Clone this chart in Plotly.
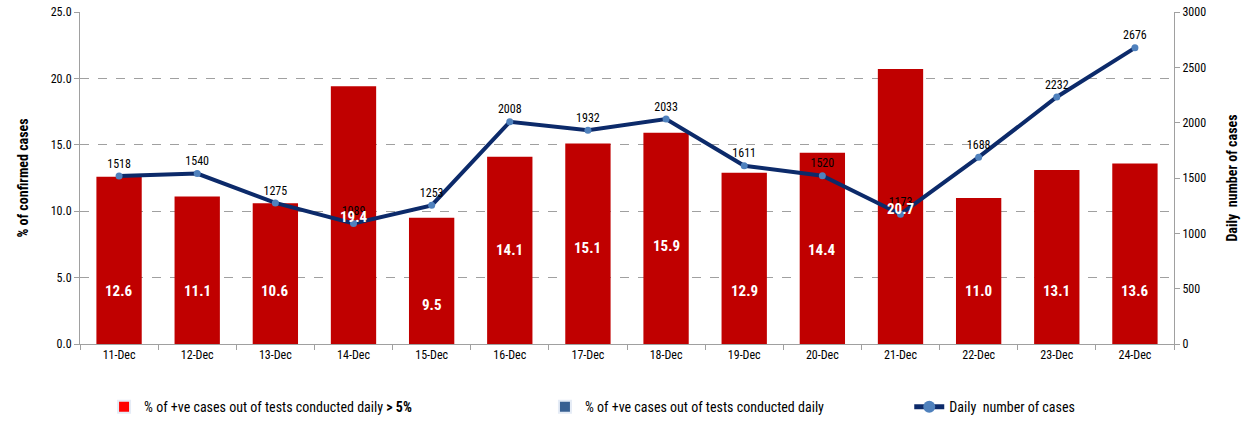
import plotly.graph_objects as go

dates = ["11-Dec", "12-Dec", "13-Dec", "14-Dec", "15-Dec", "16-Dec", "17-Dec",
         "18-Dec", "19-Dec", "20-Dec", "21-Dec", "22-Dec", "23-Dec", "24-Dec"]
pct_positive = [12.6, 11.1, 10.6, 19.4, 9.5, 14.1, 15.1, 15.9, 12.9, 14.4, 20.7, 11.0, 13.1, 13.6]
daily_cases = [1518, 1540, 1275, 1089, 1253, 2008, 1932, 2033, 1611, 1520, 1173, 1688, 2232, 2676]
left_ticks = [0, 5, 10, 15, 20, 25]
right_ticks = [0, 500, 1000, 1500, 2000, 2500, 3000]

# vertical placement of the white value labels inside bars (left-axis units)
bar_label_pos = [4.0, 4.0, 4.0, 9.6, 2.9, 7.1, 7.2, 7.4, 4.0, 7.1, 10.2, 4.0, 4.0, 4.0]

FONT = "Liberation Sans Narrow, Arial Narrow, Roboto Condensed, Liberation Sans, sans-serif"

fig = go.Figure()

fig.add_trace(go.Bar(
    x=dates, y=pct_positive, marker=dict(color="#C00000", line=dict(width=0)),
    showlegend=False, hoverinfo="y",
))

fig.add_trace(go.Scatter(
    x=dates, y=daily_cases, yaxis="y2", mode="lines+markers+text",
    line=dict(color="#0C2A6A", width=4),
    marker=dict(color="#4F81BD", size=7),
    text=[str(v) for v in daily_cases], textposition="top center",
    textfont=dict(family=FONT, size=12, color="#000000"),
    name="Daily  number of cases", legend="legend3",
))

# legend-only entries
fig.add_trace(go.Bar(x=[dates[0]], y=[None], marker_color="#FF0000",
                     name="% of +ve cases out of tests conducted daily <b>> 5%</b>",
                     legend="legend"))
fig.add_trace(go.Bar(x=[dates[0]], y=[None], marker_color="#376092",
                     name="% of +ve cases out of tests conducted daily",
                     legend="legend2"))

for d, v, p in zip(dates, pct_positive, bar_label_pos):
    fig.add_annotation(x=d, y=p, xref="x", yref="y", text=f"<b>{v:.1f}</b>",
                       showarrow=False, font=dict(family=FONT, size=15, color="#FFFFFF"))

legend_common = dict(orientation="h", yanchor="middle", xanchor="left",
                     font=dict(family=FONT, size=14, color="#000000"),
                     bgcolor="rgba(0,0,0,0)", itemsizing="constant")

fig.update_layout(
    width=1255, height=426,
    margin=dict(l=80, r=81, t=12, b=82, autoexpand=False),
    paper_bgcolor="white", plot_bgcolor="white",
    barmode="overlay", bargap=0.42,
    font=dict(family=FONT, size=12, color="#000000"),
    xaxis=dict(
        type="category", range=[-0.5, 13.5],
        showline=True, linecolor="#A0A0A0", linewidth=1,
        ticks="outside", tickson="boundaries", ticklen=5, tickcolor="#A0A0A0",
        tickfont=dict(family=FONT, size=12, color="#000000"),
        showgrid=False,
    ),
    yaxis=dict(
        range=[0, 25], tickvals=left_ticks, tickformat=".1f",
        showline=True, linecolor="#A0A0A0", linewidth=1,
        ticks="outside", ticklen=5, tickcolor="#A0A0A0",
        showgrid=True, gridcolor="#A0A0A0", griddash="dash", gridwidth=1,
        zeroline=False, automargin=False,
        tickfont=dict(family=FONT, size=12, color="#000000"),
        title=dict(text="<b>% of confirmed cases</b>", font=dict(family=FONT, size=14), standoff=18),
    ),
    yaxis2=dict(
        range=[0, 3000], tickvals=right_ticks, overlaying="y", side="right",
        showline=True, linecolor="#A0A0A0", linewidth=1,
        ticks="outside", ticklen=5, tickcolor="#A0A0A0",
        showgrid=False, zeroline=False, automargin=False,
        tickfont=dict(family=FONT, size=12, color="#000000"),
        title=dict(text="<b>Daily  number of cases</b>", font=dict(family=FONT, size=14), standoff=22),
    ),
    legend=dict(x=0.022, y=-0.19, **legend_common),
    legend2=dict(x=0.425, y=-0.19, **legend_common),
    legend3=dict(x=0.758, y=-0.19, **legend_common),
)

fig.write_html("out.html", config={"displayModeBar": False},
               post_script="document.body.style.margin='0';")
